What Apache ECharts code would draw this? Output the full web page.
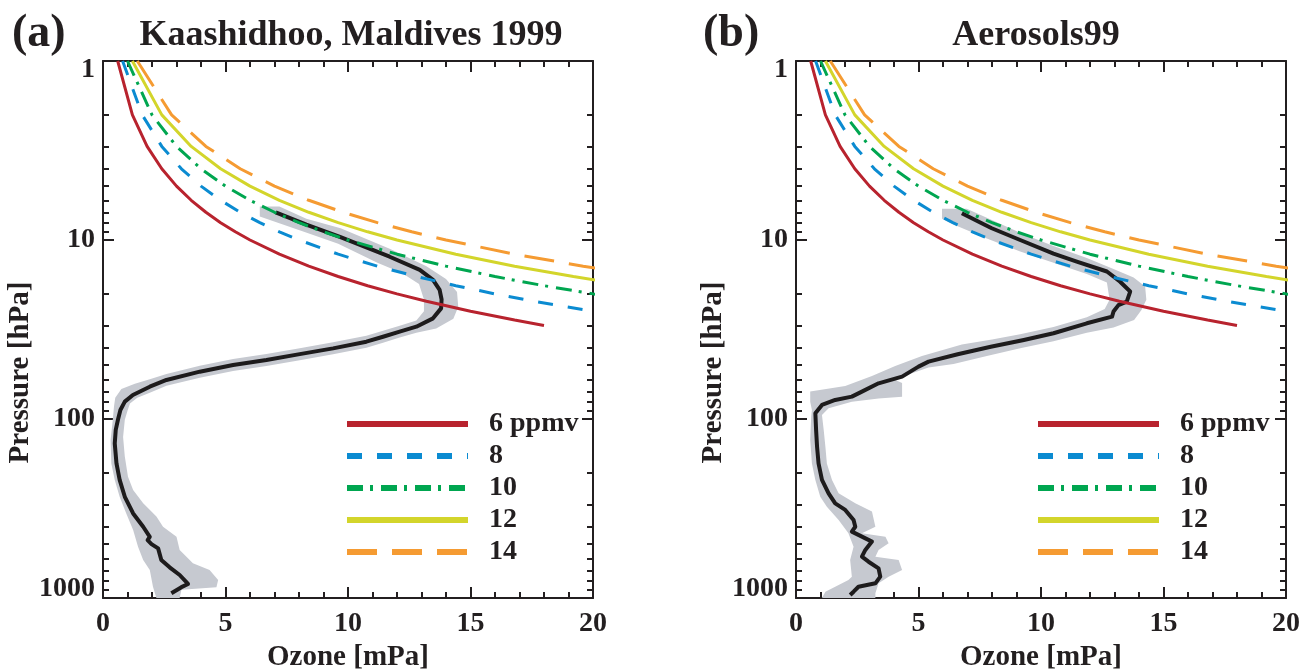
<!DOCTYPE html>
<html>
<head>
<meta charset="utf-8">
<script src="https://cdn.jsdelivr.net/npm/echarts@6/dist/echarts.min.js"></script>
<style>
html,body{margin:0;padding:0;background:#fff;}
#chart{width:1302px;height:669px;}
</style>
</head>
<body>
<div id="chart"></div>
<script>
// ---------------- data ----------------
const X_TICKS = [0, 5, 10, 15, 20];
const Y_TICKS = [1, 10, 100, 1000];
const Y_MINOR = [2,3,4,5,6,7,8,9,20,30,40,50,60,70,80,90,200,300,400,500,600,700,800,900];

const MIX_LABELS = ['6 ppmv', '8', '10', '12', '14'];
const MIX_PRESSURE = [1,2,3,4,5,6,7,8,9,10,12,14,16,18,20,22,25,28,30];
const PPMV6  = [0.6,1.2,1.8,2.4,3.0,3.6,4.2,4.8,5.4,6.0,7.2,8.4,9.6,10.8,12.0,13.2,15.0,16.8,18.0];
const PPMV8  = [0.8,1.6,2.4,3.2,4.0,4.8,5.6,6.4,7.2,8.0,9.6,11.2,12.8,14.4,16.0,17.6,20.0,22.4,24.0];
const PPMV10 = [1,2,3,4,5,6,7,8,9,10,12,14,16,18,20,22,25,28,30];
const PPMV12 = [1.2,2.4,3.6,4.8,6.0,7.2,8.4,9.6,10.8,12,14.4,16.8,19.2,21.6,24,26.4,30,33.6,36];
const PPMV14 = [1.4,2.8,4.2,5.6,7.0,8.4,9.8,11.2,12.6,14,16.8,19.6,22.4,25.2,28,30.8,35,39.2,42];

const MEAN_A = [[7.05,7.0],[8.3,8.2],[9.67,9.6],[11.7,12.4],[12.93,14.7],[13.47,16.7],[13.74,19.0],[13.82,21.5],[13.8,24.1],[13.47,27.4],[12.79,30.5],[12.11,32.5],[11.43,34.7],[10.75,37.0],[9.39,40.3],[8.03,43.4],[6.67,46.8],[5.31,49.9],[3.95,54.4],[2.59,60.5],[1.91,66.0],[1.22,73.4],[0.89,80],[0.71,89],[0.61,101],[0.52,115],[0.48,137],[0.55,177],[0.68,219],[0.89,272],[1.23,337],[1.64,400],[1.91,455],[1.82,475],[1.98,500],[2.25,528],[2.38,613],[2.72,674],[3.13,744],[3.47,835],[3.2,870],[2.79,941]];
const BAND_A_OUTER = [[6.4,6.5],[7.2,6.5],[8.3,7.6],[9.7,8.6],[11.7,11.2],[13.2,14.0],[14.0,16.5],[14.45,19.5],[14.5,23.6],[14.3,27.5],[13.6,31.2],[12.79,33.0],[12.11,35.1],[11.43,37.5],[10.75,40],[9.39,43.5],[8.03,46.9],[6.67,50.5],[5.31,53.9],[3.95,58.8],[2.59,65.3],[1.91,71.3],[1.4,76],[1.1,82],[1.0,90],[0.89,101],[0.82,126],[0.89,162],[1.02,210],[1.23,249],[1.64,296],[2.18,351],[2.45,400],[3.0,455],[3.13,539],[3.67,640],[4.35,698],[4.7,793],[4.63,870],[3.2,900],[3.13,1000]];
const BAND_A_INNER = [[6.4,7.4],[6.9,7.8],[8.2,9.0],[9.6,10.5],[11.2,13.4],[12.2,15.3],[12.9,17.6],[13.1,21.5],[13.1,25.0],[12.79,28.2],[12.11,30.1],[11.43,32.1],[10.75,34.3],[9.39,37.3],[8.03,40.2],[6.67,43.3],[5.31,46.2],[3.95,50.4],[2.59,56],[1.91,60],[1.3,63.5],[0.75,68],[0.5,76],[0.45,85],[0.4,101],[0.31,131],[0.34,177],[0.48,219],[0.68,272],[0.95,337],[1.23,417],[1.43,517],[1.64,613],[1.91,698],[2.04,865],[2.18,1000]];

const MEAN_B = [[6.77,7.09],[7.58,8.07],[7.99,8.6],[9.15,10],[10.51,11.9],[11.46,13.2],[12.69,15.0],[13.23,17.1],[13.64,19.4],[13.5,22.1],[13.16,23.1],[12.96,25.1],[12.9,26.8],[11.87,29.2],[10.51,33.2],[9.3,36.2],[7.95,39.5],[6.6,43.5],[5.41,47.8],[5.0,51],[4.33,58],[3.37,63.2],[2.69,70.3],[2.28,75],[1.6,78.3],[1.06,83.5],[0.79,92.9],[0.82,115],[0.86,143],[0.92,177],[1.06,219],[1.33,260],[1.6,296],[2.01,322],[2.35,367],[2.42,400],[2.28,426],[2.69,454],[3.1,484],[2.83,539],[2.69,588],[2.96,627],[3.37,683],[3.44,760],[3.24,828],[2.55,865],[2.35,922],[2.21,962]];
const BAND_B_OUTER = [[5.96,6.7],[6.97,6.7],[8.06,7.8],[9.15,9.1],[10.51,10.8],[11.87,12.6],[12.96,14.5],[13.78,16.2],[14.25,18.2],[14.3,21.6],[14.1,24.6],[13.8,28.0],[12.96,30.8],[11.87,33.0],[10.51,36.8],[9.15,40.2],[7.79,44.5],[6.43,49.3],[5.41,51.5],[4.73,55.6],[4.05,60.5],[4.33,63],[4.33,75],[3.37,76.7],[2.28,80],[1.33,87.1],[1.06,95],[1.13,115],[1.2,143],[1.26,177],[1.47,219],[1.74,260],[2.42,296],[3.1,329],[3.24,400],[2.69,435],[3.65,455],[3.78,495],[3.37,539],[3.24,588],[4.19,613],[4.33,698],[3.78,760],[3.37,828],[3.24,941],[3.24,1000]];
const BAND_B_INNER = [[5.96,7.6],[6.43,8.2],[7.79,9.8],[9.15,11.6],[10.51,13.4],[11.87,15.5],[12.69,17.3],[12.8,21.6],[12.6,24.3],[11.87,27.0],[10.51,30.6],[9.15,33.6],[8.0,36.0],[6.77,38.3],[5.14,44.5],[4.05,50.5],[3.1,57.5],[2.01,65.5],[0.58,70.3],[0.58,80],[0.65,89],[0.62,96.5],[0.58,131],[0.65,177],[0.79,219],[0.99,272],[1.26,309],[1.74,367],[2.14,435],[2.35,517],[2.21,613],[2.28,760],[2.14,793],[1.6,865],[1.2,922],[1.06,1000]];

// ---------------- styles ----------------
const INK = '#231f20';
const FONT = 'Liberation Serif';
const MIX_COLORS = ['#b8232e', '#0b8bd1', '#00a650', '#d3d52b', '#f59b32'];
const MIX_DASH = ['solid', [15, 15], [16, 7, 3, 8], 'solid', [30, 15]];
const GREY = '#c6c9d0';
const MEAN_COLOR = '#1d1b1c';
const MAJOR_LEN = 11, MINOR_LEN = 6;

const GRIDS = [
  {left: 103, top: 61, width: 490, height: 537, containLabel: false, outerBoundsMode: 'none'},
  {left: 796, top: 61, width: 490, height: 537, containLabel: false, outerBoundsMode: 'none'}
];

function zip(o, p) { return o.map((v, i) => [v, p[i]]); }
const MIX_SETS = [PPMV6, PPMV8, PPMV10, PPMV12, PPMV14];

const xAxes = [], yAxes = [], series = [];
const lbl = {fontFamily: FONT, fontWeight: 'bold', fontSize: 28, color: INK};

GRIDS.forEach((g, gi) => {
  ['bottom', 'top'].forEach(pos => {
    const main = pos === 'bottom';
    xAxes.push({
      type: 'value', gridIndex: gi, position: pos, min: 0, max: 20, interval: 5,
      axisLine: {show: true, onZero: false, lineStyle: {color: INK, width: 2}},
      axisTick: {show: true, inside: true, length: MAJOR_LEN, lineStyle: {color: INK, width: 2}},
      minorTick: {show: true, splitNumber: 5, length: MINOR_LEN, lineStyle: {color: INK, width: 2}},
      splitLine: {show: false}, minorSplitLine: {show: false},
      axisLabel: Object.assign({show: main, margin: 12}, lbl),
      name: main ? 'Ozone [mPa]' : '', nameLocation: 'middle', nameGap: 40,
      nameTextStyle: {fontFamily: FONT, fontWeight: 'bold', fontSize: 29, color: INK}
    });
  });
  ['left', 'right'].forEach(pos => {
    ['major', 'minor'].forEach(kind => {
      const major = kind === 'major';
      const showLbl = major && pos === 'left';
      yAxes.push({
        type: 'log', logBase: 10, gridIndex: gi, position: pos, min: 1, max: 1000, inverse: true,
        axisLine: {show: major, onZero: false, lineStyle: {color: INK, width: 2}},
        axisTick: {show: true, inside: true, length: major ? MAJOR_LEN : MINOR_LEN,
                   customValues: major ? Y_TICKS : Y_MINOR, lineStyle: {color: INK, width: 2}},
        splitLine: {show: false},
        axisLabel: Object.assign({show: showLbl, margin: 8, lineHeight: 18, customValues: Y_TICKS,
                   formatter: v => String(v), verticalAlignMinLabel: 'top', verticalAlignMaxLabel: 'bottom'}, lbl),
        name: showLbl ? 'Pressure [hPa]' : '', nameLocation: 'middle', nameGap: 64, nameRotate: 90,
        nameTextStyle: {fontFamily: FONT, fontWeight: 'bold', fontSize: 29, color: INK, padding: [0, 86, 0, 0]}
      });
    });
  });
});

const PANELS = [
  {mean: MEAN_A, outer: BAND_A_OUTER, inner: BAND_A_INNER},
  {mean: MEAN_B, outer: BAND_B_OUTER, inner: BAND_B_INNER}
];

PANELS.forEach((pn, gi) => {
  const xi = gi * 2, yi = gi * 4;
  const outline = pn.outer.concat(pn.inner.slice().reverse());
  series.push({
    type: 'custom', name: 'envelope' + gi, xAxisIndex: xi, yAxisIndex: yi,
    coordinateSystem: 'cartesian2d', clip: true, z: 1, silent: true,
    encode: {x: 0, y: 1},
    data: outline,
    renderItem: (params, api) => {
      if (params.dataIndex !== 0) return null;
      return {type: 'polygon', shape: {points: outline.map(pt => api.coord(pt))},
              style: {fill: GREY}};
    }
  });
  series.push({
    type: 'line', name: 'mean' + gi, xAxisIndex: xi, yAxisIndex: yi, z: 2, silent: true,
    data: pn.mean, symbol: 'none', showSymbol: false, clip: true,
    lineStyle: {color: MEAN_COLOR, width: 4, join: 'round'}
  });
  MIX_SETS.forEach((set, k) => {
    series.push({
      type: 'line', name: MIX_LABELS[k], xAxisIndex: xi, yAxisIndex: yi, z: 3, silent: true,
      data: zip(set, MIX_PRESSURE), symbol: 'none', showSymbol: false, clip: true,
      itemStyle: {color: MIX_COLORS[k]},
      lineStyle: {color: MIX_COLORS[k], width: 3, type: MIX_DASH[k]}
    });
  });
});

function legendAt(left) {
  return {
    data: MIX_LABELS, orient: 'vertical', left: left, top: 410, padding: 0,
    itemWidth: 121, itemHeight: 14, itemGap: 4, selectedMode: false,
    itemStyle: {opacity: 0},
    lineStyle: {width: 6},
    textStyle: {fontFamily: FONT, fontWeight: 'bold', fontSize: 28, lineHeight: 28, color: INK, padding: [0, 0, 0, 16]}
  };
}

const titleStyle = (size) => ({fontFamily: FONT, fontWeight: 'bold', fontSize: size, color: INK});

const option = {
  animation: false,
  backgroundColor: '#ffffff',
  title: [
    {text: '(a)', left: 12, top: 11, padding: 0, textStyle: titleStyle(46)},
    {text: 'Kaashidhoo, Maldives 1999', left: 351, top: 18, textAlign: 'center', padding: 0, textStyle: titleStyle(36)},
    {text: '(b)', left: 703, top: 11, padding: 0, textStyle: titleStyle(46)},
    {text: 'Aerosols99', left: 1036, top: 18, textAlign: 'center', padding: 0, textStyle: titleStyle(36)}
  ],
  grid: GRIDS,
  xAxis: xAxes,
  yAxis: yAxes,
  legend: [legendAt(344), legendAt(1035)],
  series: series
};

const chart = echarts.init(document.getElementById('chart'), null, {renderer: 'canvas'});
chart.setOption(option);
</script>
</body>
</html>
